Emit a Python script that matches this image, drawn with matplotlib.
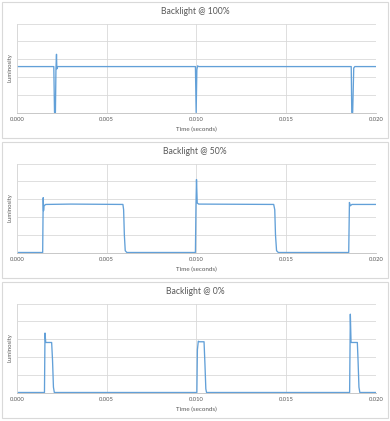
import matplotlib
matplotlib.use("Agg")
import matplotlib.pyplot as plt
from matplotlib.patches import Rectangle

plt.rcParams['font.family'] = ['Lato', 'DejaVu Sans']

titles = ["Backlight @ 100%", "Backlight @ 50%", "Backlight @ 0%"]
x_ticks = [0.000, 0.005, 0.010, 0.015, 0.020]
x_tick_labels = ["0.000", "0.005", "0.010", "0.015", "0.020"]
x_label = "Time (seconds)"
y_label = "Luminosity"

t_100 = [0, 0.00205, 0.00209, 0.00214, 0.00217, 0.00220, 0.00222, 0.00226,
         0.00994, 0.00998, 0.01002, 0.01006, 0.01012,
         0.01862, 0.01865, 0.01870, 0.01876, 0.01882, 0.020]
lum_100 = [2.58, 2.58, 0.0, 0.0, 2.45, 3.27, 2.45, 2.58,
           2.58, 0.0, 2.40, 2.62, 2.58,
           2.58, 0.0, 0.0, 2.50, 2.58, 2.58]

t_50 = [0, 0.00143, 0.00146, 0.00148, 0.00150, 0.00160, 0.00300, 0.00590,
        0.00594, 0.00598, 0.00603, 0.00612,
        0.00994, 0.00997, 0.01000, 0.01004, 0.01012, 0.01430,
        0.01436, 0.01440, 0.01446, 0.01456,
        0.01848, 0.01852, 0.01856, 0.01866, 0.020]
lum_50 = [0, 0, 3.08, 2.35, 2.62, 2.70, 2.72, 2.70,
          2.40, 1.00, 0.10, 0.0,
          0.0, 2.60, 4.10, 2.78, 2.72, 2.70,
          2.40, 1.00, 0.10, 0.0,
          0.0, 2.81, 2.62, 2.70, 2.70]

t_0 = [0, 0.00153, 0.00156, 0.00160, 0.00193, 0.00198, 0.00203, 0.00208,
       0.01002, 0.01005, 0.01010, 0.01016, 0.01042, 0.01047, 0.01052, 0.01056,
       0.01853, 0.01857, 0.01861, 0.01896, 0.01900, 0.01905, 0.01910, 0.020]
lum_0 = [0, 0, 3.34, 2.81, 2.81, 1.80, 0.30, 0.0,
         0.0, 2.40, 2.88, 2.85, 2.85, 1.60, 0.20, 0.0,
         0.0, 4.40, 2.81, 2.81, 1.80, 0.30, 0.0, 0.0]

series = [(t_100, lum_100), (t_50, lum_50), (t_0, lum_0)]

W, H = 390, 421
fig = plt.figure(figsize=(W / 100, H / 100), dpi=100)
fig.patch.set_facecolor("white")

panel_tops = [2, 142, 282]
panel_h = 136
line_color = "#62A0D8"
grid_color = "#D9D9D9"
text_color = "#595959"

for i, (title, (tx, ly)) in enumerate(zip(titles, series)):
    top = panel_tops[i]
    fig.patches.append(Rectangle((2 / W, 1 - (top + panel_h) / H), 386 / W, panel_h / H,
                                 transform=fig.transFigure, fill=False,
                                 edgecolor=grid_color, linewidth=0.8))
    ax_top = top + 21.5
    ax_bot = top + 110.5
    ax = fig.add_axes([17 / W, 1 - ax_bot / H, 359 / W, (ax_bot - ax_top) / H])
    ax.plot(tx, ly, color=line_color, linewidth=0.95)
    ax.set_xlim(0, 0.020)
    ax.set_ylim(0, 5)
    ax.set_xticks(x_ticks)
    ax.set_xticklabels(x_tick_labels, fontsize=4.2, color=text_color)
    ax.set_yticks([0, 1, 2, 3, 4, 5])
    ax.set_yticklabels([])
    ax.tick_params(axis='both', length=0, pad=3)
    ax.grid(True, color=grid_color, linewidth=0.6)
    ax.set_axisbelow(True)
    for s in ["top", "right"]:
        ax.spines[s].set_visible(False)
    ax.spines["left"].set_color(grid_color)
    ax.spines["left"].set_linewidth(0.6)
    ax.spines["bottom"].set_color("#BFBFBF")
    ax.spines["bottom"].set_linewidth(0.6)
    ax.set_xlabel(x_label, fontsize=4.5, color=text_color, labelpad=4)
    ax.set_ylabel(y_label, fontsize=4.3, color=text_color, labelpad=0)
    ax.yaxis.set_label_coords(-0.013, 0.5)
    fig.text(0.5, 1 - (top + 9) / H, title, ha="center", va="center",
             fontsize=6.2, color=text_color)

fig.savefig("out.png", dpi=100, facecolor="white")
